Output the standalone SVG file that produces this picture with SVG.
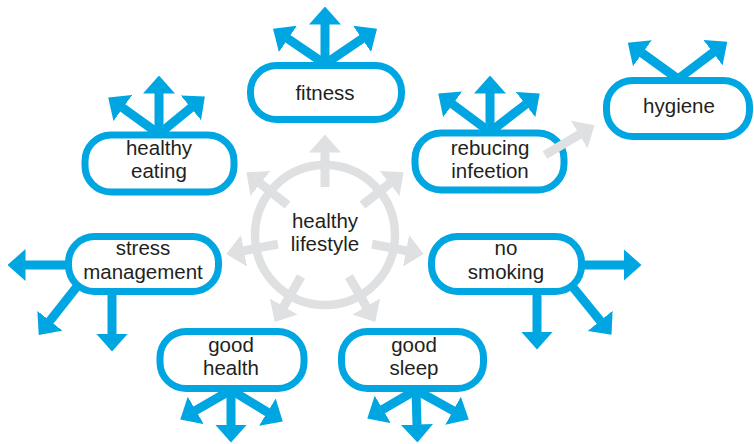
<svg xmlns="http://www.w3.org/2000/svg" width="754" height="444" viewBox="0 0 754 444">
<style>
.node rect{fill:#fff;stroke:#00a6e1;stroke-width:7}
.ring{fill:none;stroke:#dfe0e2;stroke-width:8.5}
text{font-family:"Liberation Sans",Arial,sans-serif;font-size:20.5px;fill:#231f20;text-anchor:middle}
.b{stroke:#00a6e1;stroke-width:9;fill:none;marker-end:url(#hb)}
.g{stroke:#dfe0e2;stroke-width:9;fill:none;marker-end:url(#hg)}
</style>
<defs>
<marker id="hb" markerUnits="userSpaceOnUse" viewBox="0 -16 18 32" markerWidth="18" markerHeight="32" refX="0.5" refY="0" orient="auto"><path d="M0,-16L18,0L0,16z" fill="#00a6e1"/></marker>
<marker id="hg" markerUnits="userSpaceOnUse" viewBox="0 -16 18 32" markerWidth="18" markerHeight="32" refX="0.5" refY="0" orient="auto"><path d="M0,-16L18,0L0,16z" fill="#dfe0e2"/></marker>
</defs>
<g id="center">
<circle class="ring" cx="325" cy="235" r="70"/>
<text x="325" y="228">healthy</text>
<text x="325" y="251">lifestyle</text>
</g>
<g id="fitness" class="node"><rect x="250.5" y="65.5" width="151" height="54" rx="26"/><text x="325" y="100">fitness</text></g>
<g id="hygiene" class="node"><rect x="606.5" y="80.5" width="143" height="56" rx="26"/><text x="679" y="113">hygiene</text></g>
<g id="healthy-eating" class="node"><rect x="85" y="135" width="149" height="57" rx="26"/><text x="159" y="155">healthy</text><text x="159" y="178">eating</text></g>
<g id="rebucing-infeetion" class="node"><rect x="415" y="133" width="149" height="57" rx="26"/><text x="490" y="155">rebucing</text><text x="490" y="178">infeetion</text></g>
<g id="stress-management" class="node"><rect x="68.5" y="236.5" width="150" height="55" rx="26"/><text x="143" y="255">stress</text><text x="143" y="279">management</text></g>
<g id="no-smoking" class="node"><rect x="431.5" y="236.5" width="150" height="55" rx="26"/><text x="506" y="255">no</text><text x="506" y="279">smoking</text></g>
<g id="good-health" class="node"><rect x="160" y="331.5" width="144" height="57" rx="26"/><text x="231" y="352">good</text><text x="231" y="375">health</text></g>
<g id="good-sleep" class="node"><rect x="341.5" y="331.5" width="142" height="57" rx="26"/><text x="414" y="352">good</text><text x="414" y="375">sleep</text></g>
<g id="connectors">
<path class="g" d="M325,187L325,152"/>
<path class="g" d="M362.5,205.1L389.9,183.2"/>
<path class="g" d="M287.5,205.1L260.1,183.2"/>
<path class="g" d="M372.1,244.2L406.5,250.8"/>
<path class="g" d="M277.9,244.2L243.5,250.8"/>
<path class="g" d="M349,276.6L366.5,306.9"/>
<path class="g" d="M301,276.6L283.5,306.9"/>
<path class="g" d="M545,155L579.6,134.3"/>
<path class="b" d="M325,64L325,24"/>
<path class="b" d="M325,64L287.5,38.6"/>
<path class="b" d="M325,64L362.5,38.6"/>
<path class="b" d="M678,79L642,53"/>
<path class="b" d="M678,79L713.3,52.3"/>
<path class="b" d="M159,134L159,93"/>
<path class="b" d="M159,134L122.4,107.7"/>
<path class="b" d="M159,134L191.3,107.6"/>
<path class="b" d="M490,132L490,93"/>
<path class="b" d="M490,132L452.3,104"/>
<path class="b" d="M490,132L525.9,104.2"/>
<path class="b" d="M68,265L25,265"/>
<path class="b" d="M112,292L112,334"/>
<path class="b" d="M79,284L49.6,321.2"/>
<path class="b" d="M583,265L624,265"/>
<path class="b" d="M537,292L537,332"/>
<path class="b" d="M572,286L600.5,321.2"/>
<path class="b" d="M231,390L231,425"/>
<path class="b" d="M231,390L195.4,410.7"/>
<path class="b" d="M231,390L267.8,412.4"/>
<path class="b" d="M416,390L417,425"/>
<path class="b" d="M416,390L382.4,409.6"/>
<path class="b" d="M416,390L453.5,410.9"/>
</g>
</svg>
